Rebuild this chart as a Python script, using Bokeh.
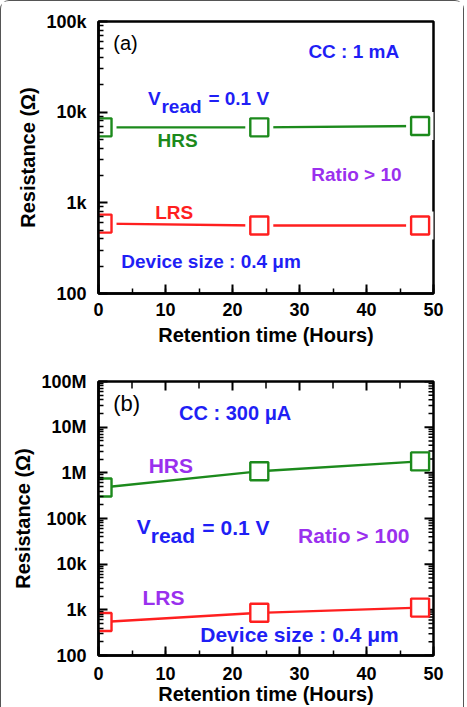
import math

from bokeh.plotting import figure
from bokeh.models import Label, FixedTicker, SingleIntervalTicker, Range1d
from bokeh.layouts import column
from bokeh.embed import file_html
from bokeh.resources import INLINE

# ---- data -------------------------------------------------------------
hours = [0.6, 24, 48]

hrs_a = [6800, 6800, 7050]
lrs_a = [590, 562, 562]

hrs_b = [476000, 1080000, 1780000]
lrs_b = [540, 860, 1120]

x_major = [0, 10, 20, 30, 40, 50]
x_minor = [5, 15, 25, 35, 45]

yticks_a = [100, 1000, 10000, 100000]
ylabels_a = ["100", "1k", "10k", "100k"]
yticks_b = [100, 1000, 10000, 100000, 1000000, 10000000, 100000000]
ylabels_b = ["100", "1k", "10k", "100k", "1M", "10M", "100M"]

# ---- style ------------------------------------------------------------
FONT = "Liberation Sans"
BLUE = "#1f1ff5"
GREEN = "#1c8a1c"
RED = "#ff1f1f"
PURPLE = "#9a30ee"


def minor_log(ticks):
    out = []
    for t in ticks[:-1]:
        out += [t * k for k in range(2, 10)]
    return out


def make_panel(height, top, bottom, yr, yticks, ylabels):
    p = figure(width=462, height=height, y_axis_type="log",
               x_range=Range1d(0, 50), y_range=Range1d(*yr),
               output_backend="svg", toolbar_location=None,
               min_border_left=97, min_border_right=30,
               min_border_top=top, min_border_bottom=bottom)
    p.grid.visible = False
    p.outline_line_color = "black"
    p.outline_line_width = 2.5
    p.background_fill_color = "white"

    xax = p.below[0]
    yax = p.left[0]
    xax.ticker = SingleIntervalTicker(interval=10, num_minor_ticks=2)
    yax.ticker = FixedTicker(ticks=yticks, minor_ticks=minor_log(yticks))
    yax.major_label_overrides = dict(zip(yticks, ylabels))

    for ax in (xax, yax):
        ax.axis_line_width = 2.5
        ax.axis_line_color = "black"
        ax.major_tick_in = 9
        ax.major_tick_out = 0
        ax.minor_tick_in = 5
        ax.minor_tick_out = 0
        ax.major_tick_line_width = 2
        ax.minor_tick_line_width = 1.5
        ax.major_tick_line_color = "black"
        ax.minor_tick_line_color = "black"
        ax.major_label_text_font = FONT
        ax.major_label_text_font_style = "bold"
        ax.major_label_text_font_size = "18px"
        ax.major_label_text_color = "black"
        ax.axis_label_text_font = FONT
        ax.axis_label_text_font_style = "bold"
        ax.axis_label_text_font_size = "20px"
        ax.axis_label_text_color = "black"

    xax.axis_label = "Retention time (Hours)"
    yax.axis_label = "Resistance (Ω)"
    yax.major_label_standoff = 12
    yax.axis_label_standoff = 4
    xax.major_label_standoff = 9
    return p, xax, yax


def mirror_ticks(p, yticks, ytop):
    """Inward tick marks along the top and right frame edges.

    Dash markers centred on the frame edge are clipped by the frame,
    so only their inner half shows."""
    p.scatter(x_major, [ytop] * len(x_major), marker="dash", size=18,
              angle=math.pi / 2, line_color="black", line_width=2)
    p.scatter(x_minor, [ytop] * len(x_minor), marker="dash", size=14,
              angle=math.pi / 2, line_color="black", line_width=1.5)
    p.scatter([50] * len(yticks), yticks, marker="dash", size=18,
              line_color="black", line_width=2)
    minors = minor_log(yticks)
    p.scatter([50] * len(minors), minors, marker="dash", size=10,
              line_color="black", line_width=1.5)


def add_series(p, ys, color, gap):
    p.line(hours, ys, line_color=color, line_width=2.4)
    if gap:
        p.scatter(hours, ys, marker="square", size=28, fill_color="white",
                  line_color=None)
    p.scatter(hours, ys, marker="square", size=18, fill_color="white",
              line_color=color, line_width=2.4)


def label(p, x, y, text, color, size, align="center", baseline="middle",
          style="bold"):
    p.add_layout(Label(x=x, y=y, text=text, text_color=color,
                       text_font=FONT, text_font_style=style,
                       text_font_size=size, text_align=align,
                       text_baseline=baseline))


# ---- panel (a) ---------------------------------------------------------
pa, xa, ya = make_panel(354, 20, 62, (100, 100000), yticks_a, ylabels_a)
add_series(pa, hrs_a, GREEN, True)
add_series(pa, lrs_a, RED, True)
xa.axis_label_standoff = 5

label(pa, 2.2, 10 ** 4.765, "(a)", "black", "20px", align="left", style="normal")
label(pa, 38.1, 10 ** 4.666, "CC : 1 mA", BLUE, "19px")
label(pa, 7.4, 10 ** 4.149, "V", BLUE, "19px", align="left", baseline="alphabetic")
label(pa, 9.4, 10 ** 4.061, "read", BLUE, "19px", align="left", baseline="alphabetic")
label(pa, 16.4, 10 ** 4.149, "= 0.1 V", BLUE, "19px", align="left", baseline="alphabetic")
label(pa, 11.8, 10 ** 3.686, "HRS", GREEN, "19px")
label(pa, 38.5, 10 ** 3.312, "Ratio > 10", PURPLE, "19px")
label(pa, 11.3, 10 ** 2.893, "LRS", RED, "19px")
label(pa, 16.8, 10 ** 2.354, "Device size : 0.4 μm", BLUE, "19px")

# ---- panel (b) ---------------------------------------------------------
pb, xb, yb = make_panel(352, 26, 51, (100, 100000000), yticks_b, ylabels_b)
mirror_ticks(pb, yticks_b, yticks_b[-1])
add_series(pb, hrs_b, GREEN, False)
add_series(pb, lrs_b, RED, False)
xb.axis_label_standoff = 0
xb.major_label_standoff = 11

label(pb, 2.2, 10 ** 7.514, "(b)", "black", "22px", align="left", style="normal")
label(pb, 20.4, 10 ** 7.318, "CC : 300 μA", BLUE, "20px")
label(pb, 10.8, 10 ** 6.163, "HRS", PURPLE, "21px")
label(pb, 5.7, 10 ** 4.819, "V", BLUE, "21px", align="left", baseline="alphabetic")
label(pb, 7.8, 10 ** 4.623, "read", BLUE, "21px", align="left", baseline="alphabetic")
label(pb, 15.5, 10 ** 4.806, "= 0.1 V", BLUE, "21px", align="left", baseline="alphabetic")
label(pb, 38.1, 10 ** 4.617, "Ratio > 100", PURPLE, "21px")
label(pb, 9.7, 10 ** 3.266, "LRS", PURPLE, "21px")
label(pb, 30.0, 10 ** 2.46, "Device size : 0.4 μm", BLUE, "21px")

layout = column(pa, pb, spacing=0,
                styles={"border-top": "1px solid #555",
                        "border-left": "1px solid #555",
                        "border-right": "1px solid #555",
                        "border-top-left-radius": "9px",
                        "border-top-right-radius": "9px"})

open("out.html", "w").write(file_html(layout, INLINE))
